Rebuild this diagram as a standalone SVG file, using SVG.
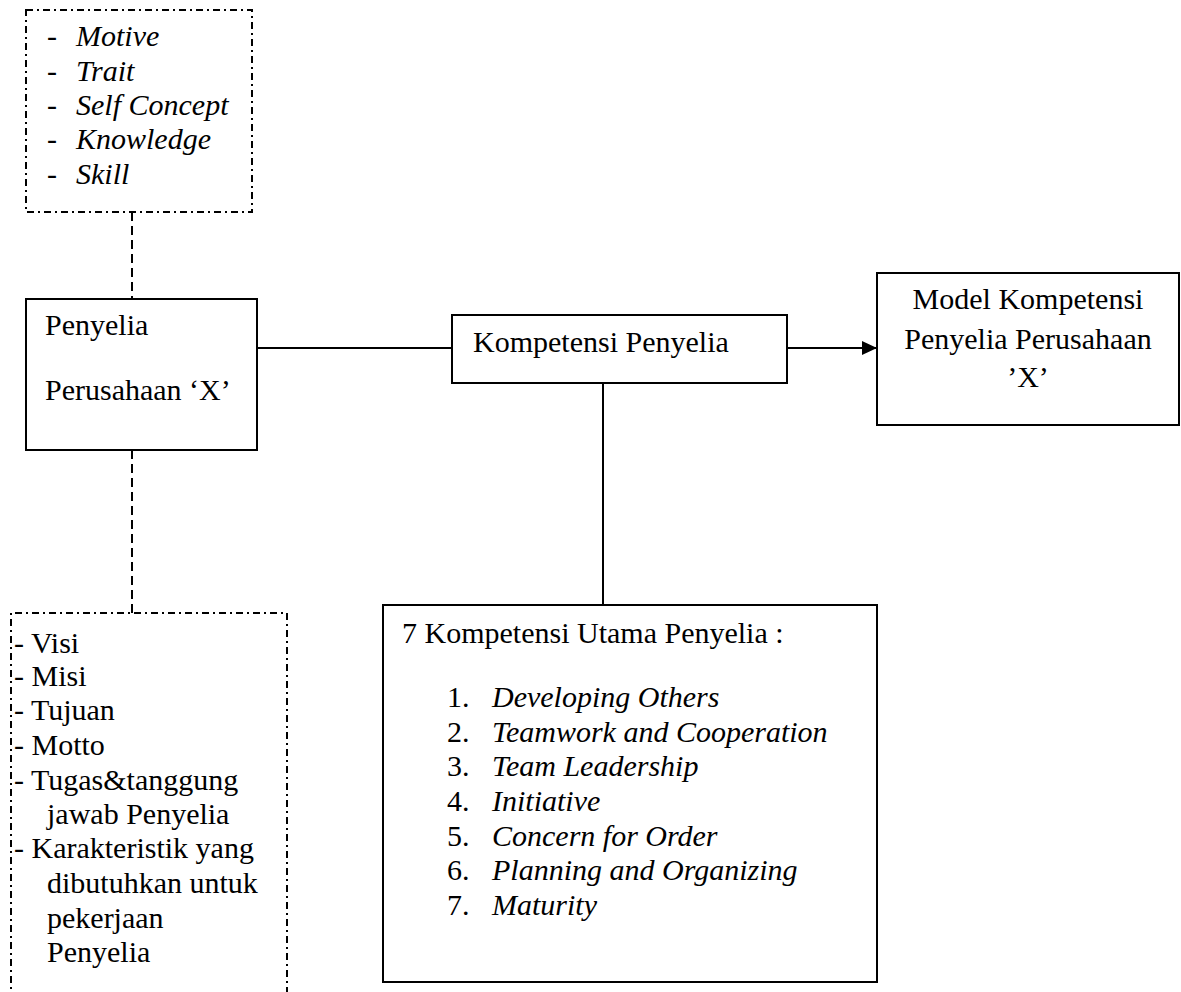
<svg xmlns="http://www.w3.org/2000/svg" width="1181" height="992" viewBox="0 0 1181 992">
<style>
text{font-family:"Liberation Serif","Times New Roman",serif;font-size:30px;fill:#000}
.it{font-style:italic}
.box{fill:#fff;stroke:#000;stroke-width:2}
.dd{fill:none;stroke:#000;stroke-width:2;stroke-dasharray:7 4 2 4}
.conn{fill:none;stroke:#000;stroke-width:2}
.dash{stroke-dasharray:9 5}
</style>
<defs>
<marker id="arr" markerWidth="16" markerHeight="16" refX="15" refY="8" orient="auto" markerUnits="userSpaceOnUse">
<path d="M0,1 L15,8 L0,15 Z" fill="#000"/>
</marker>
</defs>
<rect width="1181" height="992" fill="#fff"/>
<g id="connectors">
<line class="conn dash" x1="132" y1="212" x2="132" y2="299"/>
<line class="conn dash" x1="132" y1="450" x2="132" y2="613"/>
<line class="conn" x1="257" y1="348" x2="452" y2="348"/>
<line class="conn" x1="787" y1="348" x2="877" y2="348" marker-end="url(#arr)"/>
<line class="conn" x1="603" y1="383" x2="603" y2="605"/>
</g>
<g id="node-characteristics">
<rect class="dd" x="26" y="10" width="226" height="202"/>
<text x="47" y="46">-</text><text class="it" x="76" y="46">Motive</text>
<text x="47" y="81">-</text><text class="it" x="76" y="81">Trait</text>
<text x="47" y="115">-</text><text class="it" x="76" y="115">Self Concept</text>
<text x="47" y="149">-</text><text class="it" x="76" y="149">Knowledge</text>
<text x="47" y="184">-</text><text class="it" x="76" y="184">Skill</text>
</g>
<g id="node-penyelia">
<rect class="box" x="26" y="299" width="231" height="151"/>
<text x="45" y="335">Penyelia</text>
<text x="45" y="400">Perusahaan ‘X’</text>
</g>
<g id="node-company">
<path class="dd" d="M11,1000 V613 H287 V1000"/>
<text x="14" y="653">- Visi</text>
<text x="14" y="686">- Misi</text>
<text x="14" y="720">- Tujuan</text>
<text x="14" y="755">- Motto</text>
<text x="14" y="790">- Tugas&amp;tanggung</text>
<text x="47" y="824">jawab Penyelia</text>
<text x="14" y="858">- Karakteristik yang</text>
<text x="47" y="893">dibutuhkan untuk</text>
<text x="47" y="928">pekerjaan</text>
<text x="47" y="962">Penyelia</text>
</g>
<g id="node-kompetensi">
<rect class="box" x="452" y="315" width="335" height="68"/>
<text x="473" y="352">Kompetensi Penyelia</text>
</g>
<g id="node-model">
<rect class="box" x="877" y="273" width="302" height="152"/>
<text x="1028" y="309" text-anchor="middle">Model Kompetensi</text>
<text x="1028" y="349" text-anchor="middle">Penyelia Perusahaan</text>
<text x="1028" y="387" text-anchor="middle">’X’</text>
</g>
<g id="node-utama">
<rect class="box" x="383" y="605" width="494" height="377"/>
<text x="402" y="643">7 Kompetensi Utama Penyelia :</text>
<text x="447" y="707">1.</text><text class="it" x="492" y="707">Developing Others</text>
<text x="447" y="742">2.</text><text class="it" x="492" y="742">Teamwork and Cooperation</text>
<text x="447" y="776">3.</text><text class="it" x="492" y="776">Team Leadership</text>
<text x="447" y="811">4.</text><text class="it" x="492" y="811">Initiative</text>
<text x="447" y="846">5.</text><text class="it" x="492" y="846">Concern for Order</text>
<text x="447" y="880">6.</text><text class="it" x="492" y="880">Planning and Organizing</text>
<text x="447" y="915">7.</text><text class="it" x="492" y="915">Maturity</text>
</g>
</svg>
